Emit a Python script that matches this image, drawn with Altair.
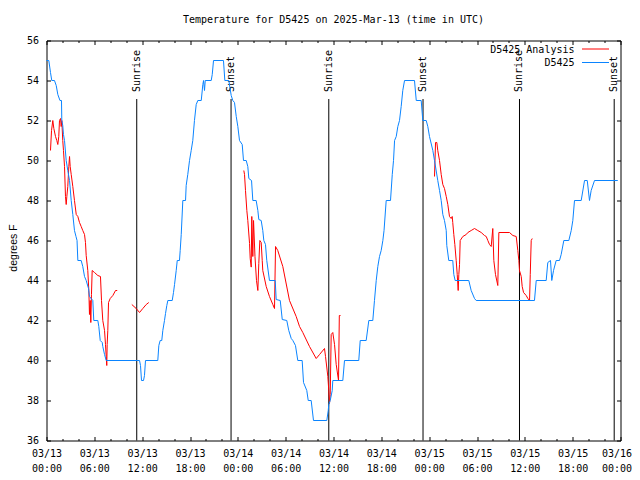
import altair as alt
import pandas as pd

# ---------------- data (hours after 2025-03-13 00:00 UTC, degrees F) ----------------
obs_hours = [0.00, 0.29, 0.50, 0.66, 1.00, 1.22, 1.42, 1.69, 1.88, 1.92, 2.04, 2.13, 2.26, 2.47, 2.67,
             2.89, 3.10, 3.30, 3.51, 3.70, 3.83, 3.93, 4.35, 4.55, 4.77, 4.98, 5.27, 5.39, 5.81, 5.93,
             6.44, 6.56, 6.74, 6.99, 7.06, 7.28, 7.49, 11.67, 11.79, 11.92, 12.17, 12.29, 12.42, 13.96,
             14.09, 14.26, 14.46, 14.59, 14.80, 14.93, 15.09, 15.22, 15.77, 15.93, 16.06, 16.27, 16.40,
             16.68, 16.77, 16.90, 17.10, 17.44, 17.52, 17.72, 17.94, 18.15, 18.35, 18.56, 18.78, 18.98,
             19.41, 19.61, 19.70, 19.82, 19.91, 20.66, 20.79, 20.95, 22.20, 22.37, 22.87, 23.17, 23.37,
             23.58, 23.80, 24.00, 24.21, 24.55, 24.71, 25.05, 25.25, 25.38, 25.72, 25.88, 26.30, 26.51,
             26.63, 26.93, 27.13, 27.26, 27.47, 27.63, 27.97, 28.69, 28.81, 29.32, 29.57, 30.14, 30.39,
             30.70, 30.90, 31.23, 31.52, 32.07, 32.24, 32.65, 32.83, 33.20, 33.49, 35.16, 35.34, 35.41,
             35.59, 35.84, 35.91, 37.17, 37.38, 39.17, 39.35, 40.10, 40.43, 40.93, 41.14, 41.36, 41.56,
             41.77, 41.98, 42.19, 42.34, 42.61, 43.15, 43.37, 43.53, 43.66, 43.87, 44.07, 44.28, 44.49,
             44.69, 44.91, 46.16, 46.38, 47.00, 47.20, 47.63, 47.83, 48.04, 48.46, 48.67, 49.08, 49.30,
             49.51, 49.71, 49.92, 50.14, 50.21, 50.46, 50.96, 51.09, 51.26, 52.97, 53.27, 53.69, 53.90,
             61.21, 61.43, 62.68, 62.88, 63.22, 63.38, 63.60, 63.93, 64.35, 64.56, 64.89, 65.52, 65.82,
             66.02, 66.23, 67.07, 67.49, 67.83, 68.11, 68.32, 68.74, 71.66]
obs_temps = [55, 55, 54.4, 54, 54, 53.75, 53.3, 53, 53, 52, 51.75, 51.3, 51, 50, 49.5,
             49, 48, 47.3, 46.5, 46.2, 46.0, 45, 45, 44.7, 44.2, 44.0, 43.6, 43.2, 43, 42,
             42, 41.7, 41, 40.9, 40.7, 40.3, 40, 40, 39.75, 39, 39, 39.25, 40, 40,
             40.75, 41, 41, 41.5, 42, 42.35, 42.75, 43, 43, 43.4, 43.8, 44.5, 45,
             45, 45.5, 46.3, 48, 48, 48.75, 49.3, 50, 50.5, 51, 52, 52.8, 53,
             53, 53.8, 54, 53.5, 54, 54, 54.3, 55, 55, 54, 54, 53.25, 53,
             52.9, 52.2, 51.7, 51, 50.8, 50, 50, 49.7, 49.1, 49, 48, 48, 47.5,
             47.05, 47, 46.5, 46, 45.8, 45, 44, 44, 43.05, 43, 42.05, 42, 41.5,
             41.1, 41, 40.75, 40, 40, 38.9, 38.5, 38, 38, 37, 37, 37.5, 37.8,
             38, 38.5, 39, 39, 40, 40, 41, 41, 42, 42, 43, 44, 44.7,
             45.2, 45.5, 46, 46.5, 48, 48, 49.3, 50, 51, 51.2, 51.7, 52, 52.7,
             53.5, 54, 54, 53, 53, 52, 52, 51.7, 51.2, 50.5, 50, 49, 48.5,
             48, 47.3, 47, 46.5, 45.75, 45, 45, 44.3, 44, 44, 43.5, 43.1, 43,
             43, 44, 44, 44.9, 45, 44, 44.5, 45, 45, 45.3, 46, 46, 46.5,
             47, 48, 48, 49, 49, 48, 48.5, 49, 49]

ana_hours = [0.50, 0.63, 0.79, 0.92, 1.13, 1.29, 1.42, 1.54, 1.63, 1.76, 1.84, 1.92, 2.04, 2.13, 2.26,
             2.38, 2.47, 2.55, 2.67, 2.80, 2.89, 2.97, 3.10, 3.30, 3.51, 3.73, 3.93, 4.14, 4.35, 4.55,
             4.77, 4.89, 4.98, 5.18, 5.31, 5.39, 5.48, 5.56, 5.64, 5.73, 6.02, 6.44, 6.77, 6.90, 7.06,
             7.28, 7.40, 7.49, 7.56, 7.61, 7.69, 7.78, 7.99, 8.32, 8.66, 8.87,
             10.70, 11.25, 11.67, 12.08, 12.51, 12.83,
             24.75, 24.84, 24.96, 25.13, 25.25, 25.47, 25.55, 25.68, 25.75, 25.88, 25.97, 26.15, 26.34,
             26.51, 26.63, 26.76, 26.93, 27.06, 27.13, 27.56, 27.97, 28.39, 28.60, 28.73, 29.01, 29.64,
             30.48, 31.32, 31.74, 32.15, 32.99, 33.83, 34.25, 34.87, 35.00, 35.29, 35.41, 35.50, 35.59,
             35.71, 35.91, 36.13, 36.34, 36.63, 36.73, 36.88,
             48.67, 48.80, 48.96, 49.08, 49.30, 49.51, 49.71, 49.92, 50.14, 50.34, 50.55, 50.76, 50.89,
             50.96, 51.09, 51.22, 51.39, 51.52, 51.64, 51.72, 51.81, 51.89, 52.22, 52.65, 52.85, 53.27,
             53.69, 54.10, 54.53, 54.94, 55.16, 55.36, 55.57, 55.78, 55.98, 56.11, 56.32, 56.61, 56.74,
             58.08, 58.50, 58.92, 59.12, 59.25, 59.33, 59.55, 59.67, 59.84, 60.17, 60.38, 60.59, 60.68,
             60.80, 60.93]
ana_temps = [50.5, 51.5, 52.0, 51.6, 51.2, 51.0, 50.8, 51.2, 52.0, 52.1, 51.7, 52.0, 51.0, 50.5, 49.7,
             48.2, 47.8, 48.2, 48.7, 49.7, 50.2, 49.7, 49.3, 48.7, 48.0, 47.3, 47.2, 46.9, 46.7, 46.5,
             46.3, 45.9, 45.25, 44.5, 43.5, 42.3, 43.0, 41.9, 43.3, 44.5, 44.4, 44.25, 44.2, 43.0, 42.0,
             41.5, 40.8, 40.2, 39.75, 40.8, 41.5, 42.9, 43.1, 43.25, 43.5, 43.5,
             42.8, 42.6, 42.4, 42.6, 42.8, 42.9,
             49.5, 49.3, 48.5, 47.5, 47.0, 45.85, 45.1, 44.67, 47.2, 45.2, 47.0, 45.2, 44.0,
             43.5, 44.85, 46.0, 45.9, 45.0, 44.5, 43.7, 43.2, 42.8, 42.6, 45.7, 45.5, 44.7,
             43.0, 42.2, 41.7, 41.4, 40.7, 40.1, 40.3, 40.6, 40.2, 39.2, 38.5, 37.85, 38.3,
             41.3, 41.4, 40.8, 39.8, 39.0, 42.25, 42.25,
             49.2, 50.9, 50.9, 50.5, 50.0, 49.3, 48.8, 48.6, 48.2, 47.8, 47.2, 47.1, 47.2,
             46.9, 46.3, 45.8, 45.0, 44.3, 43.5, 44.3, 44.8, 46.0, 46.2, 46.3, 46.4, 46.5,
             46.6, 46.5, 46.4, 46.25, 46.2, 46.0, 45.8, 45.7, 46.6, 45.0, 44.3, 43.75, 46.4,
             46.4, 46.25, 46.2, 45.5, 45.0, 44.5, 44.2, 43.7, 43.4, 43.25, 43.1, 43.0, 44.3,
             46.0, 46.1]
ana_segment = [1] * 56 + [2] * 6 + [3] * 46 + [4] * 54

sun_hours = [11.32, 23.15, 35.41, 47.23, 59.33, 71.21]
sun_labels = ["Sunrise", "Sunset", "Sunrise", "Sunset", "Sunrise", "Sunset"]

series_names = ["D5425 Analysis", "D5425"]
series_colors = ["#ff0000", "#0a84ff"]

y_ticks = [36, 38, 40, 42, 44, 46, 48, 50, 52, 54, 56]
title_text = "Temperature for D5425 on 2025-Mar-13 (time in UTC)"
y_title = "degrees F"

# ---------------- build tables ----------------
T0 = int(pd.Timestamp("2025-03-13T00:00:00Z").value // 10**6)
HOUR = 3600 * 1000
T_END = T0 + 72 * HOUR


def to_ms(h):
    return T0 + int(round(h * HOUR))


obs_df = pd.DataFrame({"t": [to_ms(h) for h in obs_hours], "temp": obs_temps})
ana_df = pd.DataFrame({"t": [to_ms(h) for h in ana_hours], "temp": ana_temps, "seg": ana_segment})
sun_df = pd.DataFrame({"t": [to_ms(h) for h in sun_hours], "label": sun_labels})

major_vals = [T0 + 6 * HOUR * i for i in range(13)]
minor_vals = [T0 + 2 * HOUR * i for i in range(37) if i % 3 != 0]

MONO = "DejaVu Sans Mono"
W, H = 574, 400
xscale = alt.Scale(type="utc", domain=[T0, T_END], nice=False)
yscale = alt.Scale(domain=[36, 56], nice=False, zero=False)

MAJ, MIN = 4, 2

ax_bottom = alt.Axis(orient="bottom", offset=-MAJ, tickSize=MAJ, domain=False, grid=False,
                     values=major_vals, labelFont=MONO, labelFontSize=10, labelColor="black",
                     labelPadding=8, labelLineHeight=15, labelAngle=0, labelAlign="center",
                     labelExpr="[utcFormat(datum.value, '%m/%d'), utcFormat(datum.value, '%H:%M')]",
                     labelOffset={"condition": {"test": f"datum.value >= {T_END}", "value": -4},
                                  "value": 0},
                     tickColor="black", title=None, labelOverlap=False, labelFlush=False)
ax_bottom_minor = alt.Axis(orient="bottom", offset=-MIN, tickSize=MIN, domain=False, grid=False,
                           values=minor_vals, labels=False, tickColor="black", title=None)
ax_top = alt.Axis(orient="top", offset=-MAJ, tickSize=MAJ, domain=False, grid=False,
                  values=major_vals, labels=False, tickColor="black", title=None)
ax_top_minor = alt.Axis(orient="top", offset=-MIN, tickSize=MIN, domain=False, grid=False,
                        values=minor_vals, labels=False, tickColor="black", title=None)
ax_left = alt.Axis(orient="left", offset=-MAJ, tickSize=MAJ, domain=False, grid=False,
                   values=y_ticks, format="d", labelFont=MONO, labelFontSize=10, labelColor="black",
                   labelPadding=8, tickColor="black", title=y_title, titleFont="Liberation Sans",
                   titleFontSize=10.5, titleFontWeight="normal", titleColor="black", titleAngle=270,
                   titleX=-37.5, titleY=207, titleAlign="center", titleBaseline="middle")
ax_right = alt.Axis(orient="right", offset=-MAJ, tickSize=MAJ, domain=False, grid=False,
                    values=y_ticks, labels=False, tickColor="black", title=None)

rules = alt.Chart(sun_df).mark_rule(color="black", strokeWidth=1).encode(
    x=alt.X("t:T", scale=xscale, axis=ax_top),
    y=alt.value(58.5), y2=alt.value(H))

sun_text = alt.Chart(sun_df).mark_text(font=MONO, fontSize=10, angle=270, align="left",
                                       baseline="middle", color="black").encode(
    x=alt.X("t:T", scale=xscale, axis=ax_top_minor),
    y=alt.value(51.5), text="label:N")

red = alt.Chart(ana_df).mark_line(color=series_colors[0], strokeWidth=1).encode(
    x=alt.X("t:T", scale=xscale, axis=ax_bottom_minor),
    y=alt.Y("temp:Q", scale=yscale, axis=ax_right),
    detail="seg:N")

blue = alt.Chart(obs_df).mark_line(color=series_colors[1], strokeWidth=1).encode(
    x=alt.X("t:T", scale=xscale, axis=ax_bottom),
    y=alt.Y("temp:Q", scale=yscale, axis=ax_left))

leg_text1 = alt.Chart(pd.DataFrame({"name": [series_names[0]]})).mark_text(
    font=MONO, fontSize=10, align="right", baseline="middle", color="black").encode(
    x=alt.value(528), y=alt.value(9.5), text="name:N")
leg_text2 = alt.Chart(pd.DataFrame({"name": [series_names[1]]})).mark_text(
    font=MONO, fontSize=10, align="right", baseline="middle", color="black").encode(
    x=alt.value(528), y=alt.value(22.5), text="name:N")
leg_line1 = alt.Chart(pd.DataFrame({"name": [series_names[0]]})).mark_rule(
    color=series_colors[0], strokeWidth=1).encode(
    x=alt.value(535.5), x2=alt.value(562.5), y=alt.value(8.5))
leg_line2 = alt.Chart(pd.DataFrame({"name": [series_names[1]]})).mark_rule(
    color=series_colors[1], strokeWidth=1).encode(
    x=alt.value(535.5), x2=alt.value(562.5), y=alt.value(22))

chart = alt.layer(rules, sun_text, red, blue, leg_text1, leg_text2, leg_line1, leg_line2).resolve_axis(
    x="independent", y="independent"
).properties(
    width=W, height=H,
    title=alt.TitleParams(text=title_text, font=MONO, fontSize=10, fontWeight="normal",
                          color="black", anchor="middle", frame="group", offset=1,
                          baseline="bottom"),
    autosize=alt.AutoSizeParams(type="none"),
    padding={"left": 38.5, "top": 32.5, "right": 11.5, "bottom": 38},
    background="white",
).configure_view(stroke="black", strokeWidth=1)

chart.save("out.html", embed_options={"renderer": "svg", "actions": False})
